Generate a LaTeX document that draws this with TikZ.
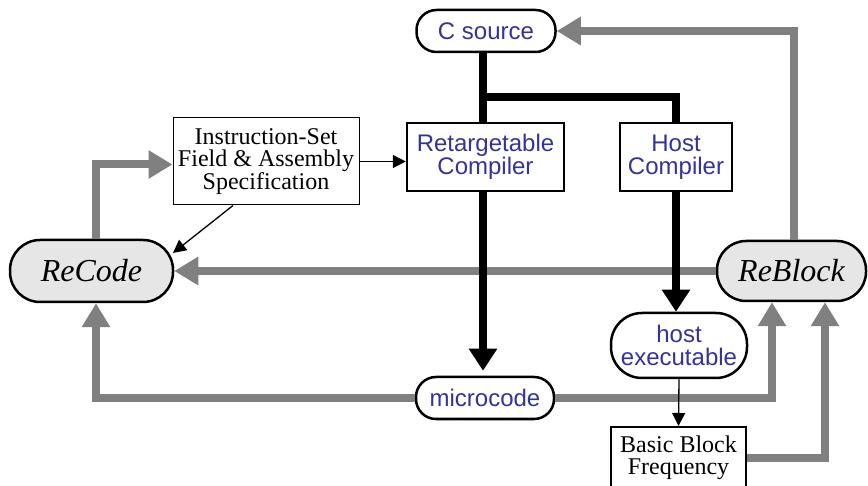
\documentclass[tikz,border=0pt]{standalone}
\usepackage{fontspec}
\setmainfont{Liberation Serif}
\newfontfamily\hvfont{Liberation Sans}
\usetikzlibrary{arrows.meta,calc}
\definecolor{labelblue}{RGB}{51,51,153}
\definecolor{flowgray}{RGB}{128,128,128}
\definecolor{toolfill}{RGB}{230,230,230}

\begin{document}
\begin{tikzpicture}[x=1pt,y=-1pt,
  sanslbl/.style={font=\hvfont\fontsize{24}{23}\selectfont, text=labelblue, align=center},
  seriflbl/.style={font=\fontsize{24}{22}\selectfont, align=center},
  pill/.style={draw, line width=2.5pt, fill=white, rounded corners=#1, inner sep=0pt},
  compbox/.style={draw, line width=2.5pt, fill=white, inner sep=0pt},
  thinbox/.style={draw, line width=1pt, fill=white, inner sep=0pt},
  toolpill/.style={draw, line width=2.5pt, fill=toolfill, rounded corners=#1, inner sep=0pt,
    font=\itshape\fontsize{32}{32}\selectfont},
  grayflow/.style={draw=flowgray, line width=8pt, -{Triangle[length=24pt,width=27pt]}},
  blackflow/.style={line width=8pt, -{Triangle[length=22pt,width=27pt]}},
  blackline/.style={line width=8pt},
  thinflow/.style={line width=1.3pt, -{Triangle[length=13pt,width=13pt]}},
]
\useasboundingbox (0,0) rectangle (868,486);

% nodes
\node[pill=20pt, sanslbl, minimum width=139pt, minimum height=42pt] (csrc) at (486,31) {C source};
\node[compbox, sanslbl, minimum width=157pt, minimum height=68pt] (retarget) at (485.5,157) {Retargetable\\Compiler};
\node[compbox, sanslbl, minimum width=112pt, minimum height=68pt] (hostc) at (676,157) {Host\\Compiler};
\node[thinbox, seriflbl, minimum width=186pt, minimum height=87pt] (spec) at (266,161.5) {Instruction-Set\\Field \& Assembly\\Specification};
\node[toolpill=30pt, minimum width=163pt, minimum height=62pt] (recode) at (91.5,271) {ReCode};
\node[toolpill=29pt, minimum width=149pt, minimum height=60pt] (reblock) at (791.5,271) {ReBlock};
\node[pill=20pt, sanslbl, minimum width=138pt, minimum height=42pt] (micro) at (485,398) {microcode};
\node[pill=31pt, sanslbl, minimum width=136pt, minimum height=65pt] (hostexe) at (679,345.5) {host\\executable};
\node[compbox, line width=2pt, seriflbl, minimum width=135pt, minimum height=62pt] (bbf) at (678.5,458) {Basic Block\\Frequency};

% x positions of the vertical feedback runs
\coordinate (leftrun) at (96,0);
\coordinate (microrun) at (772,0);
\coordinate (freqrun) at (825,0);
\coordinate (toprun) at (794,0);
\coordinate (split) at (483,97);
\coordinate (specout) at (233,0);
\coordinate (rctip) at (173,253);

% gray feedback paths
\draw[grayflow] (recode.north -| leftrun) |- ([yshift=-3pt]spec.west);
\draw[grayflow] (micro.west) -| (recode.south -| leftrun);
\draw[grayflow] (reblock.west) -- (recode.east |- reblock.west);
\draw[grayflow] (micro.east) -| (reblock.south -| microrun);
\draw[grayflow] (bbf.east) -| (reblock.south -| freqrun);
\draw[grayflow] (reblock.north -| toprun) |- (csrc.east);

% compilation flow
\draw[blackline] (csrc.south -| split) -- (retarget.north -| split);
\draw[blackline] (split) -| (hostc.north);
\draw[blackflow] (retarget.south -| split) -- ([yshift=5pt]micro.north -| split);
\draw[blackflow] (hostc.south) -- (hostexe.north -| hostc.south);

% thin arrows
\draw[thinflow] (spec.east) -- (retarget.west |- spec.east);
\draw[thinflow] (spec.south -| specout) -- (rctip);
\draw[thinflow] (hostexe.south) -- (bbf.north);
\end{tikzpicture}
\end{document}
